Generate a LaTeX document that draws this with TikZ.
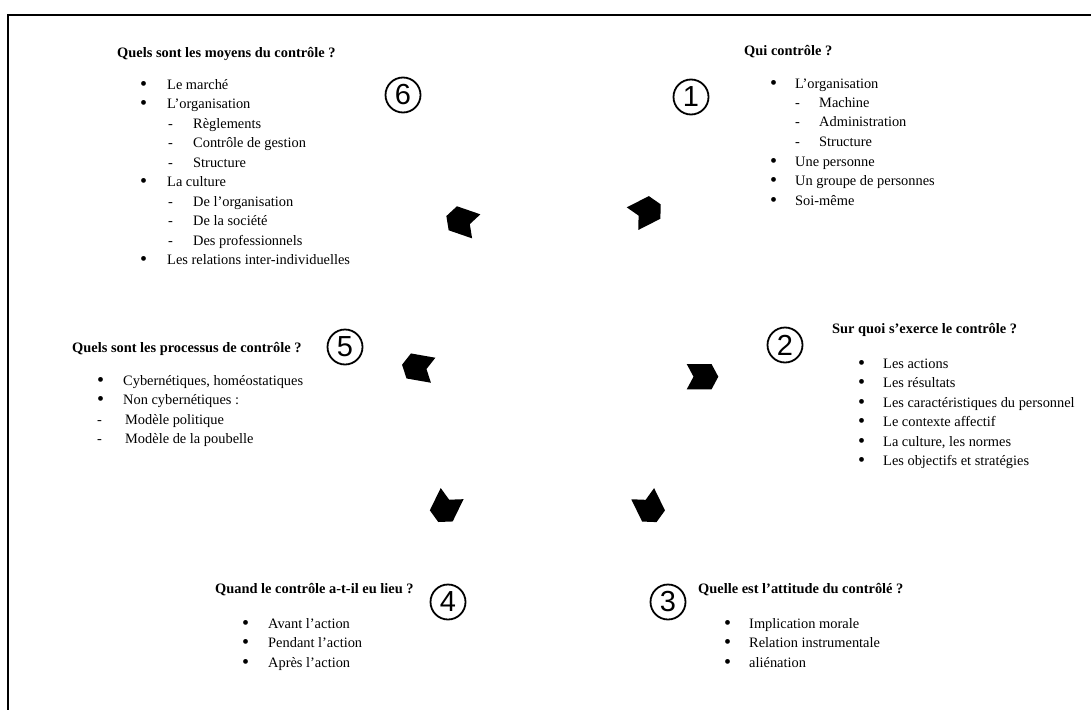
\documentclass[tikz,border=0pt]{standalone}
\usepackage{fontspec}
\setmainfont{Liberation Serif}
\newfontfamily\digitfont{Liberation Sans}

% list lines: bullet item, dash sub-item
\newcommand\bigdot{\raisebox{-1.2pt}{\fontsize{20}{20}\selectfont\textbullet}}
\newcommand\bitem[2][26pt]{\hbox{\makebox[#1][l]{\bigdot}#2}}
\newcommand\ditem[3][26pt]{\hbox{\hspace{#1}\makebox[#2][l]{-}#3}}
\newcommand\itemstack[1]{\vtop{\baselineskip=19.5pt\lineskiplimit=-20pt #1}}

\begin{document}
\begin{tikzpicture}[x=1pt,y=-1pt,
  heading/.style={anchor=base west,inner sep=0pt,font=\fontsize{14.4}{19.5}\selectfont\bfseries},
  itemlist/.style={anchor=base west,inner sep=0pt,font=\fontsize{14.4}{19.5}\selectfont},
  stepnum/.style={circle,draw,line width=1.8pt,minimum size=35pt,inner sep=0pt,
    font=\digitfont\fontsize{29}{29}\selectfont},
  chevron/.pic={\fill (-15.8,12.7) -- (9,12.7) -- (15.8,0) -- (9,-12.7) -- (-15.8,-12.7) -- (-9,0) -- cycle;}
]
\useasboundingbox (0,0) rectangle (1091,709);
\begin{scope}
  \clip (0,0) rectangle (1091,709);
  \draw[line width=1.6pt] (8,15) rectangle (1120,740);
\end{scope}

% numbered steps
\node[stepnum] (c1) at (691,97) {1};
\node[stepnum] (c2) at (785,345) {2};
\node[stepnum] (c3) at (668,602) {3};
\node[stepnum] (c4) at (448,602) {4};
\node[stepnum] (c5) at (345,347) {5};
\node[stepnum] (c6) at (403,95) {6};

% cycle chevrons
\pic[rotate=27]  at (646.6,211.5) {chevron};
\pic[rotate=0]   at (702.5,376.7) {chevron};
\pic[rotate=-64] at (649.6,507.9) {chevron};
\pic[rotate=244] at (445.2,507.8) {chevron};
\pic[rotate=170] at (417.6,367.5) {chevron};
\pic[rotate=161] at (461.3,221.2) {chevron};

% 6
\node[heading] (h6) at (117,57) {Quels sont les moyens du contrôle ?};
\node[itemlist] (l6) at (140,89) {\itemstack{%
  \bitem[27pt]{Le marché}
  \bitem[27pt]{L'organisation}
  \ditem[28pt]{25pt}{Règlements}
  \ditem[28pt]{25pt}{Contrôle de gestion}
  \ditem[28pt]{25pt}{Structure}
  \bitem[27pt]{La culture}
  \ditem[28pt]{25pt}{De l'organisation}
  \ditem[28pt]{25pt}{De la société}
  \ditem[28pt]{25pt}{Des professionnels}
  \bitem[27pt]{Les relations inter-individuelles}}};

% 1
\node[heading] (h1) at (744,56) {Qui contrôle ?};
\node[itemlist] (l1) at (770,88) {\itemstack{%
  \bitem[25pt]{L'organisation}
  \ditem[25pt]{24pt}{Machine}
  \ditem[25pt]{24pt}{Administration}
  \ditem[25pt]{24pt}{Structure}
  \bitem[25pt]{Une personne}
  \bitem[25pt]{Un groupe de personnes}
  \bitem[25pt]{Soi-même}}};

% 5
\node[heading] (h5) at (72,352) {Quels sont les processus de contrôle ?};
\node[itemlist] (l5) at (97,385) {\itemstack{%
  \bitem[26pt]{Cybernétiques, homéostatiques}
  \bitem[26pt]{Non cybernétiques :}
  \ditem[0pt]{28pt}{Modèle politique}
  \ditem[0pt]{28pt}{Modèle de la poubelle}}};

% 2
\node[heading] (h2) at (832,333) {Sur quoi s'exerce le contrôle ?};
\node[itemlist] (l2) at (858,368) {\itemstack{%
  \bitem[25pt]{Les actions}
  \bitem[25pt]{Les résultats}
  \bitem[25pt]{Les caractéristiques du personnel}
  \bitem[25pt]{Le contexte affectif}
  \bitem[25pt]{La culture, les normes}
  \bitem[25pt]{Les objectifs et stratégies}}};

% 4
\node[heading] (h4) at (215,593) {Quand le contrôle a-t-il eu lieu ?};
\node[itemlist] (l4) at (242,628) {\itemstack{%
  \bitem[26pt]{Avant l'action}
  \bitem[26pt]{Pendant l'action}
  \bitem[26pt]{Après l'action}}};

% 3
\node[heading] (h3) at (698,593) {Quelle est l'attitude du contrôlé ?};
\node[itemlist] (l3) at (724,628) {\itemstack{%
  \bitem[25pt]{Implication morale}
  \bitem[25pt]{Relation instrumentale}
  \bitem[25pt]{aliénation}}};
\end{tikzpicture}
\end{document}
